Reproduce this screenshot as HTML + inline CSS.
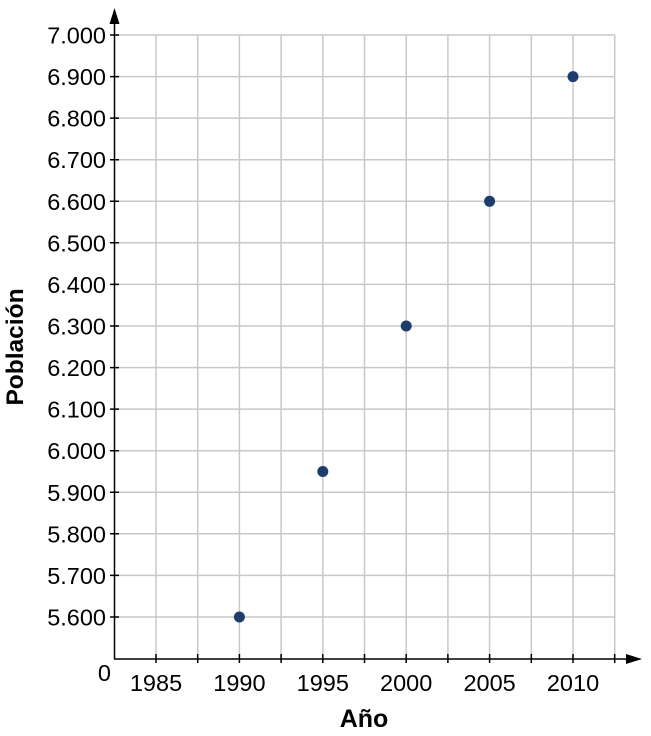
<!DOCTYPE html>
<html><head><meta charset="utf-8"><style>body{margin:0;background:#fff}svg{display:block}text{font-family:"Liberation Sans",sans-serif;fill:#000}</style></head><body>
<svg width="651" height="736" viewBox="0 0 651 736">
<g stroke="#c8c8c8" stroke-width="1.5">
<line x1="156" y1="35" x2="156" y2="659"/><line x1="197.7" y1="35" x2="197.7" y2="659"/><line x1="239.4" y1="35" x2="239.4" y2="659"/><line x1="281.1" y1="35" x2="281.1" y2="659"/><line x1="322.8" y1="35" x2="322.8" y2="659"/><line x1="364.5" y1="35" x2="364.5" y2="659"/><line x1="406.2" y1="35" x2="406.2" y2="659"/><line x1="447.9" y1="35" x2="447.9" y2="659"/><line x1="489.6" y1="35" x2="489.6" y2="659"/><line x1="531.3" y1="35" x2="531.3" y2="659"/><line x1="573" y1="35" x2="573" y2="659"/><line x1="614.7" y1="35" x2="614.7" y2="659"/>
<line x1="114" y1="35" x2="614.7" y2="35"/><line x1="114" y1="76.6" x2="614.7" y2="76.6"/><line x1="114" y1="118.1" x2="614.7" y2="118.1"/><line x1="114" y1="159.7" x2="614.7" y2="159.7"/><line x1="114" y1="201.3" x2="614.7" y2="201.3"/><line x1="114" y1="242.8" x2="614.7" y2="242.8"/><line x1="114" y1="284.4" x2="614.7" y2="284.4"/><line x1="114" y1="326" x2="614.7" y2="326"/><line x1="114" y1="367.6" x2="614.7" y2="367.6"/><line x1="114" y1="409.1" x2="614.7" y2="409.1"/><line x1="114" y1="450.7" x2="614.7" y2="450.7"/><line x1="114" y1="492.3" x2="614.7" y2="492.3"/><line x1="114" y1="533.8" x2="614.7" y2="533.8"/><line x1="114" y1="575.4" x2="614.7" y2="575.4"/><line x1="114" y1="617" x2="614.7" y2="617"/>
</g>
<g stroke="#000" stroke-width="1.5">
<line x1="114.5" y1="659" x2="114.5" y2="20"/><line x1="114" y1="659" x2="630" y2="659"/>
<path d="M110 35h9M110 76.6h9M110 118.1h9M110 159.7h9M110 201.3h9M110 242.8h9M110 284.4h9M110 326h9M110 367.6h9M110 409.1h9M110 450.7h9M110 492.3h9M110 533.8h9M110 575.4h9M110 617h9"/>
<path d="M156 654v9M197.7 654v9M239.4 654v9M281.1 654v9M322.8 654v9M364.5 654v9M406.2 654v9M447.9 654v9M489.6 654v9M531.3 654v9M573 654v9M614.7 654v9"/>
</g>
<polygon points="114.5,8 109.5,24 119.5,24" fill="#000"/>
<polygon points="642,659 626,654 626,664" fill="#000"/>
<g font-size="23.5" text-anchor="end">
<text x="106" y="43.5">7.000</text><text x="106" y="85">6.900</text><text x="106" y="126.6">6.800</text><text x="106" y="168.2">6.700</text><text x="106" y="209.8">6.600</text><text x="106" y="251.3">6.500</text><text x="106" y="292.9">6.400</text><text x="106" y="334.5">6.300</text><text x="106" y="376.1">6.200</text><text x="106" y="417.6">6.100</text><text x="106" y="459.2">6.000</text><text x="106" y="500.8">5.900</text><text x="106" y="542.3">5.800</text><text x="106" y="583.9">5.700</text><text x="106" y="625.5">5.600</text>
<text x="111" y="681">0</text>
</g>
<g font-size="23.5" text-anchor="middle">
<text x="156" y="691">1985</text><text x="239.4" y="691">1990</text><text x="322.8" y="691">1995</text><text x="406.2" y="691">2000</text><text x="489.6" y="691">2005</text><text x="573" y="691">2010</text>
<text x="364" y="727" font-weight="bold" font-size="25">Año</text>
<text transform="translate(23,347) rotate(-90)" font-weight="bold" font-size="24.5">Población</text>
</g>
<g fill="#1c3d6e">
<circle cx="239.4" cy="617" r="5.5"/><circle cx="322.8" cy="471.5" r="5.5"/><circle cx="406.2" cy="326" r="5.5"/><circle cx="489.6" cy="201.3" r="5.5"/><circle cx="573" cy="76.6" r="5.5"/>
</g>
</svg>
</body></html>
